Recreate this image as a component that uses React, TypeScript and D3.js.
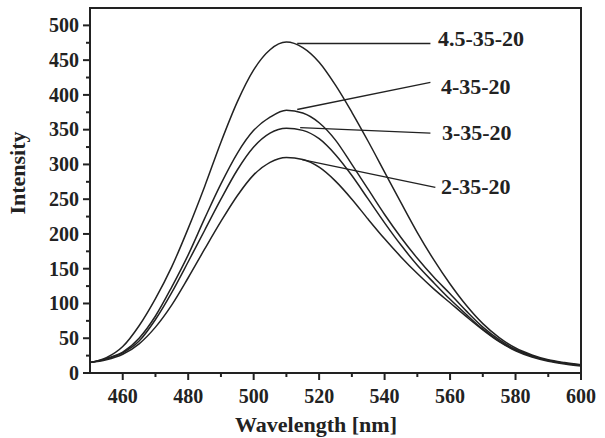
import React from "react";
import * as d3 from "d3";

// wavelength grid (nm)
const wavelengths = [
  450, 455, 460, 465, 470, 475, 480, 485, 490, 495, 500, 505, 510, 515, 520, 525,
  530, 535, 540, 545, 550, 555, 560, 565, 570, 575, 580, 585, 590, 595, 600,
];

// emission intensities
const s45 = [15, 22, 38, 68, 107, 153, 208, 268, 332, 390, 436, 465, 476, 468, 447, 414, 375, 333, 289, 245, 202, 163, 128, 97, 71, 51, 36, 26, 19, 15, 12];
const s4 = [15, 21, 30, 50, 82, 124, 170, 222, 272, 316, 349, 368, 378, 374, 360, 335, 300, 264, 228, 195, 165, 138, 114, 89, 66, 48, 34, 25, 18, 14, 11];
const s3 = [15, 20, 29, 46, 77, 116, 160, 205, 250, 292, 325, 345, 352, 349, 337, 314, 284, 250, 216, 184, 155, 130, 106, 84, 63, 46, 33, 24, 18, 14, 11];
const s2 = [15, 19, 27, 42, 66, 98, 137, 178, 218, 255, 285, 303, 310, 307, 296, 276, 250, 221, 193, 167, 143, 121, 101, 81, 62, 45, 32, 23, 17, 13, 10];

const seriesNames = ["4.5-35-20", "4-35-20", "3-35-20", "2-35-20"];
const seriesValues = [s45, s4, s3, s2];

// leader lines: [from wl, from val], [to wl, to val]; label anchor [wl, baseline val]
const leaderFrom = [[513.3, 474], [513.3, 379], [514.2, 353], [514.8, 307]];
const leaderTo = [[554, 474], [554, 418], [554, 345], [555.5, 267]];
const labelPos = [[556.3, 471], [557.2, 402], [557.5, 335], [557.2, 257]];

const xTicks = [460, 480, 500, 520, 540, 560, 580, 600];
const xMinor = [470, 490, 510, 530, 550, 570, 590];
const yTicks = [0, 50, 100, 150, 200, 250, 300, 350, 400, 450, 500];
const yMinor = [25, 75, 125, 175, 225, 275, 325, 375, 425, 475];

const W = 605;
const H = 438;
const left = 90;
const right = 581;
const top = 8;
const bottom = 373;
const ink = "#222";
const font = "'Liberation Serif', 'Times New Roman', serif";

export default function App() {
  const x = d3.scaleLinear().domain([450, 600]).range([left, right]);
  const y = d3.scaleLinear().domain([0, 525]).range([bottom, top]);

  const line = d3
    .line<number>()
    .x((_, i) => x(wavelengths[i]))
    .y((d) => y(d))
    .curve(d3.curveMonotoneX);

  return (
    <div style={{ position: "absolute", left: 0, top: 0 }}>
      <svg width={W} height={H} style={{ display: "block", background: "#fff" }}>
        {/* curves */}
        {seriesValues.map((vals, i) => (
          <path key={seriesNames[i]} d={line(vals) || ""} fill="none" stroke={ink} strokeWidth={1.5} />
        ))}

        {/* leader lines + labels */}
        {seriesNames.map((n, i) => (
          <line
            key={"l" + n}
            x1={x(leaderFrom[i][0])}
            y1={y(leaderFrom[i][1])}
            x2={x(leaderTo[i][0])}
            y2={y(leaderTo[i][1])}
            stroke={ink}
            strokeWidth={1.4}
          />
        ))}
        {seriesNames.map((n, i) => (
          <text
            key={"t" + n}
            x={x(labelPos[i][0])}
            y={y(labelPos[i][1])}
            fontFamily={font}
            fontWeight="bold"
            fontSize={22}
            fill={ink}
          >
            {n}
          </text>
        ))}

        {/* frame */}
        <rect x={left} y={top} width={right - left} height={bottom - top} fill="none" stroke={ink} strokeWidth={2} />

        {/* x axis */}
        {xTicks.map((t) => (
          <g key={"x" + t}>
            <line x1={x(t)} x2={x(t)} y1={bottom} y2={bottom + 7} stroke={ink} strokeWidth={2} />
            <text x={x(t)} y={bottom + 30} textAnchor="middle" fontFamily={font} fontWeight="bold" fontSize={20} fill={ink}>
              {t}
            </text>
          </g>
        ))}
        {xMinor.map((t) => (
          <line key={"xm" + t} x1={x(t)} x2={x(t)} y1={bottom} y2={bottom + 4} stroke={ink} strokeWidth={2} />
        ))}

        {/* y axis */}
        {yTicks.map((t) => (
          <g key={"y" + t}>
            <line x1={left - 7} x2={left} y1={y(t)} y2={y(t)} stroke={ink} strokeWidth={2} />
            <text x={left - 11} y={y(t)} dy="0.34em" textAnchor="end" fontFamily={font} fontWeight="bold" fontSize={20} fill={ink}>
              {t}
            </text>
          </g>
        ))}
        {yMinor.map((t) => (
          <line key={"ym" + t} x1={left - 4} x2={left} y1={y(t)} y2={y(t)} stroke={ink} strokeWidth={2} />
        ))}

        {/* axis titles */}
        <text
          transform={`translate(25,173) rotate(-90)`}
          textAnchor="middle"
          fontFamily={font}
          fontWeight="bold"
          fontSize={22}
          fill={ink}
        >
          Intensity
        </text>
        <text x={316} y={432} textAnchor="middle" fontFamily={font} fontWeight="bold" fontSize={22} fill={ink}>
          Wavelength [nm]
        </text>
      </svg>
    </div>
  );
}
